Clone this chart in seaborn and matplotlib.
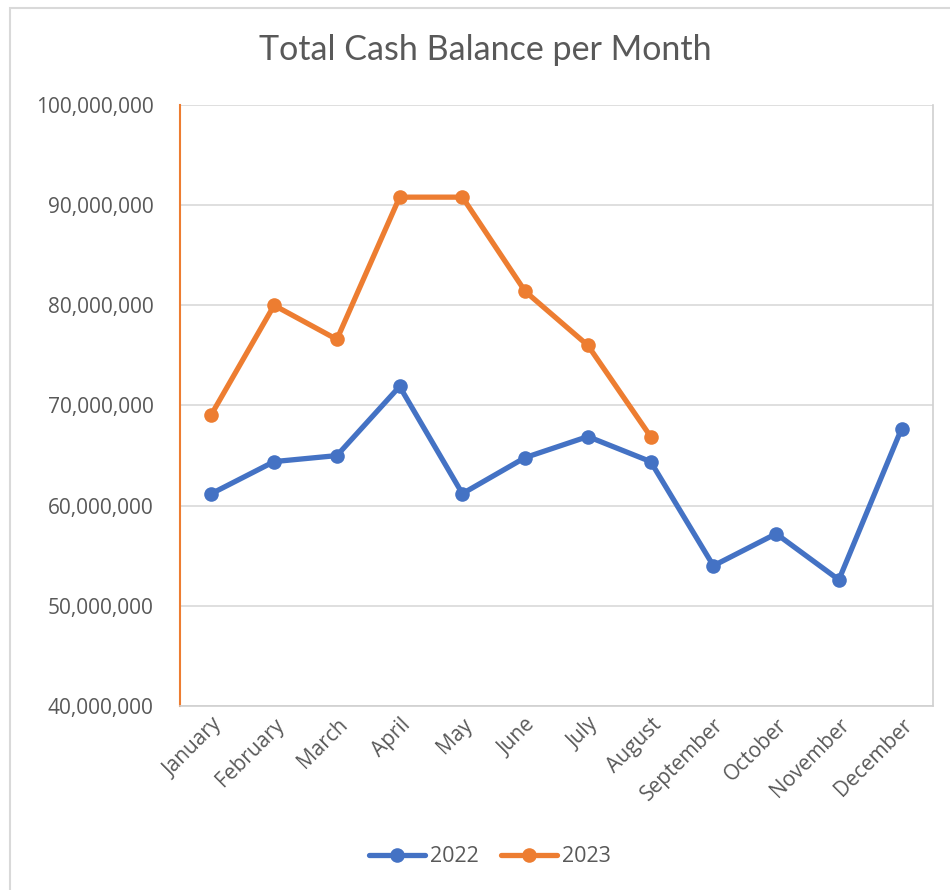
import matplotlib.pyplot as plt
import seaborn as sns
import pandas as pd
from matplotlib.patches import Rectangle
from matplotlib.ticker import FuncFormatter

# Данные
months = ['January', 'February', 'March', 'April', 'May', 'June', 'July',
          'August', 'September', 'October', 'November', 'December']
values_2022 = [61.2e6, 64.4e6, 65.0e6, 71.9e6, 61.2e6, 64.8e6, 66.9e6,
               64.4e6, 54.0e6, 57.2e6, 52.6e6, 67.7e6]
values_2023 = [69.1e6, 80.0e6, 76.6e6, 90.8e6, 90.8e6, 81.4e6, 76.0e6, 66.9e6]
years = ['2022', '2023']

df = pd.concat([
    pd.DataFrame({'Month': months, 'Cash': values_2022, 'Year': years[0]}),
    pd.DataFrame({'Month': months[:len(values_2023)], 'Cash': values_2023, 'Year': years[1]}),
])

sns.set_style('white')
plt.rcParams['font.family'] = ['Open Sans', 'DejaVu Sans']

fig = plt.figure(figsize=(9.5, 8.9), dpi=100)
ax = fig.add_axes([180 / 950, 1 - 706 / 890, (933 - 180) / 950, (706 - 105) / 890])

# Рамка вокруг всей диаграммы
fig.patches.append(Rectangle((10 / 950, -0.01), 1.0, 1 - 8 / 890 + 0.01,
                             transform=fig.transFigure, fill=False,
                             edgecolor='#d9d9d9', linewidth=1.5))

sns.lineplot(data=df, x='Month', y='Cash', hue='Year', ax=ax,
             palette=['#4472C4', '#ED7D31'], marker='o', markersize=10.5,
             markeredgewidth=0, linewidth=3.8, sort=False)

ax.set_xlim(-0.5, 11.5)
ax.set_ylim(40e6, 100e6)
ax.set_yticks(range(40000000, 100000001, 10000000))
ax.yaxis.set_major_formatter(FuncFormatter(lambda v, p: f'{int(v):,}'))
ax.grid(axis='y', color='#d9d9d9', linewidth=1.2)
ax.set_axisbelow(True)

for side in ['top', 'right', 'bottom']:
    ax.spines[side].set_color('#d0d0d0')
    ax.spines[side].set_linewidth(1.2)
ax.spines['top'].set_visible(False)
ax.spines['left'].set_color('#ED7D31')
ax.spines['left'].set_linewidth(1.5)

ax.tick_params(axis='both', length=0, labelsize=15, colors='#595959')
ax.tick_params(axis='y', pad=19)
ax.tick_params(axis='x', pad=6)
plt.setp(ax.get_xticklabels(), rotation=45, ha='right', rotation_mode='anchor')

ax.set_xlabel('')
ax.set_ylabel('')

fig.text(485 / 950, 1 - 50 / 890, 'Total Cash Balance per Month', ha='center',
         va='center', fontsize=24.5, color='#595959', family=['Lato', 'DejaVu Sans'])

handles, labels = ax.get_legend_handles_labels()
ax.legend_.remove()
fig.legend(handles, labels, loc='center', bbox_to_anchor=(490 / 950, 1 - 857 / 890),
           ncol=2, frameon=False, fontsize=15.5, labelcolor='#595959',
           handlelength=2.6, handletextpad=0.25, columnspacing=1.0)

plt.savefig('out.png', dpi=100)
